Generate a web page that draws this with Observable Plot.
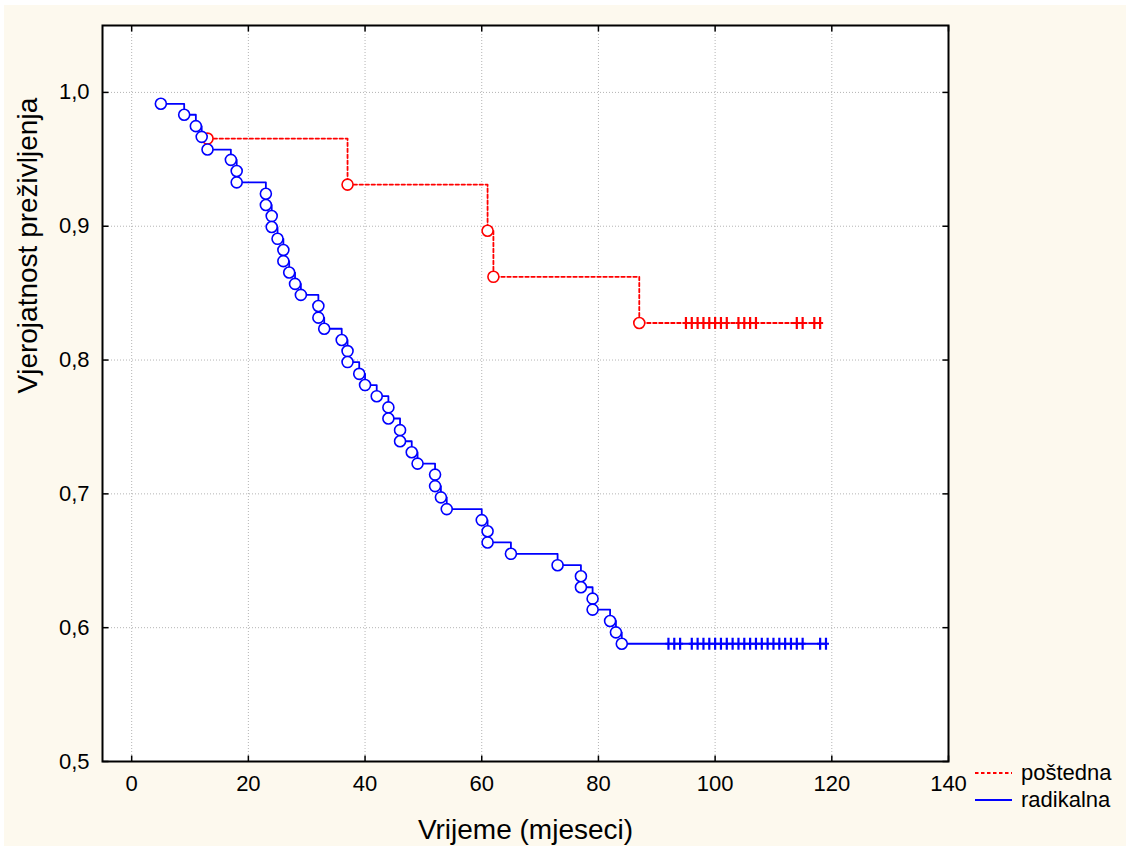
<!DOCTYPE html>
<html><head><meta charset="utf-8">
<script src="https://cdn.jsdelivr.net/npm/d3@7"></script>
<script src="https://cdn.jsdelivr.net/npm/@observablehq/plot@0.6"></script>
<style>
body{margin:0;background:#fff;}
#wrap{position:relative;width:1129px;height:850px;background:#fff;font-family:"Liberation Sans",Arial,sans-serif;overflow:hidden;}
#bg{position:absolute;left:4px;top:5px;right:3px;bottom:4px;background:#fdf9ee;}
#chart{position:absolute;left:0;top:0;}
#legend{position:absolute;left:975px;top:759px;font-size:22px;line-height:27px;color:#000;}
#legend .row{display:flex;align-items:center;height:27px;}
#legend svg{margin-right:9px;}
</style></head><body>
<div id="wrap"><div id="bg"></div><div id="chart"></div><div id="legend"></div></div>
<script>
// ---- data ----
const seriesNames = ["poštedna", "radikalna"];
const seriesColors = ["#ff0000", "#0000ff"];
const seriesDash = ["3.5,2.5", null];

const postednaEventTimes = [13, 37, 61, 62, 87];
const postednaSurvival = [0.9655, 0.9311, 0.8966, 0.8622, 0.8277];
const postednaCensored = [95, 96, 97, 98, 99, 100, 101, 102, 104, 105, 106, 107, 114, 115, 117, 118];

const radikalnaEventTimes = [5, 9, 11, 12, 13, 17, 18, 18, 23, 23, 24, 24, 25, 26, 26, 27, 28, 29, 32, 32, 33, 36, 37, 37, 39, 40, 42, 44, 44, 46, 46, 48, 49, 52, 52, 53, 54, 60, 61, 61, 65, 73, 77, 77, 79, 79, 82, 83, 84];
const radikalnaSurvival = [0.9915, 0.9833, 0.9748, 0.9668, 0.9573, 0.9496, 0.9413, 0.9328, 0.9243, 0.9159, 0.9076, 0.8994, 0.8906, 0.8822, 0.8739, 0.8654, 0.8569, 0.8487, 0.8404, 0.8317, 0.8234, 0.8150, 0.8067, 0.7985, 0.7897, 0.7813, 0.7730, 0.7646, 0.7563, 0.7476, 0.7393, 0.7311, 0.7226, 0.7144, 0.7058, 0.6974, 0.6886, 0.6804, 0.6721, 0.6637, 0.6552, 0.6467, 0.6384, 0.6302, 0.6217, 0.6135, 0.6050, 0.5965, 0.5880];
const radikalnaCensored = [92, 93, 94, 96, 97, 98, 99, 100, 101, 102, 103, 104, 105, 106, 107, 108, 109, 110, 111, 112, 113, 114, 115, 118, 119];

const xTicks = [0, 20, 40, 60, 80, 100, 120, 140];
const yTicks = [0.5, 0.6, 0.7, 0.8, 0.9, 1.0];
const xLabel = "Vrijeme (mjeseci)";
const yLabel = "Vjerojatnost preživljenja";

// ---- build tables ----
const groups = [
  {name: seriesNames[0], color: seriesColors[0], dash: seriesDash[0], times: postednaEventTimes, surv: postednaSurvival, cens: postednaCensored},
  {name: seriesNames[1], color: seriesColors[1], dash: seriesDash[1], times: radikalnaEventTimes, surv: radikalnaSurvival, cens: radikalnaCensored}
];
function survAt(g, t) {
  let s = 1;
  g.times.forEach((et, i) => { if (et <= t) s = g.surv[i]; });
  return s;
}
const events = [], lines = [], censored = [];
for (const g of groups) {
  const pts = g.times.map((t, i) => ({t, s: g.surv[i], series: g.name}));
  events.push(...pts);
  const lastT = Math.max(...g.cens);
  lines.push({g, pts: [...pts, {t: lastT, s: survAt(g, lastT), series: g.name}]});
  g.cens.forEach(t => censored.push({t, s: survAt(g, t), series: g.name}));
}

// custom symbols
const sym = (fn) => ({draw(c, size) { const l = Math.sqrt(size / Math.PI); fn(c, l); }});
const tickUp = sym((c, l) => { c.moveTo(0, 0); c.lineTo(0, -l); });
const tickDown = sym((c, l) => { c.moveTo(0, 0); c.lineTo(0, l); });
const tickRight = sym((c, l) => { c.moveTo(0, 0); c.lineTo(l, 0); });
const tickLeft = sym((c, l) => { c.moveTo(0, 0); c.lineTo(-l, 0); });
const censorPlus = sym((c, l) => { c.moveTo(0, -l); c.lineTo(0, l); c.moveTo(-l / 2, 0); c.lineTo(l / 2, 0); });

const colorScale = {domain: seriesNames, range: seriesColors};
const fmt = d => d.toFixed(1).replace(".", ",");

const marks = [
  Plot.frame({fill: "white", stroke: null}),
  Plot.gridX(xTicks, {stroke: "#b4b4b4", strokeOpacity: 1, strokeDasharray: "1,2", strokeWidth: 1}),
  Plot.gridY(yTicks, {stroke: "#b4b4b4", strokeOpacity: 1, strokeDasharray: "1,2", strokeWidth: 1}),
];
for (const L of lines) {
  marks.push(Plot.line(L.pts, {x: "t", y: "s", curve: "step-after", stroke: L.g.color, strokeWidth: 1.8, strokeDasharray: L.g.dash}));
}
marks.push(
  Plot.dot(censored, {x: "t", y: "s", stroke: "series", symbol: censorPlus, r: 6, strokeWidth: 2.2}),
  Plot.dot(events, {x: "t", y: "s", stroke: "series", fill: "white", r: 5.5, strokeWidth: 1.6}),
  Plot.frame({stroke: "black", strokeWidth: 2}),
  Plot.dot(xTicks, {x: d => d, frameAnchor: "bottom", symbol: tickUp, r: 6, stroke: "black", strokeWidth: 1.5}),
  Plot.dot(xTicks, {x: d => d, frameAnchor: "top", symbol: tickDown, r: 6, stroke: "black", strokeWidth: 1.5}),
  Plot.dot(yTicks, {y: d => d, frameAnchor: "left", symbol: tickRight, r: 6, stroke: "black", strokeWidth: 1.5}),
  Plot.dot(yTicks, {y: d => d, frameAnchor: "right", symbol: tickLeft, r: 6, stroke: "black", strokeWidth: 1.5}),
  Plot.axisX(xTicks, {anchor: "bottom", tickSize: 0, tickPadding: 14, label: null, fontSize: 22}),
  Plot.axisY(yTicks, {anchor: "left", tickSize: 0, tickPadding: 13, label: null, tickFormat: fmt, fontSize: 22}),
  Plot.text([xLabel], {frameAnchor: "bottom", dy: 69, fontSize: 28, lineAnchor: "middle", fill: "black"}),
  Plot.text([yLabel], {frameAnchor: "left", dx: -74, rotate: -90, fontSize: 28, lineAnchor: "middle", fill: "black"})
);

const chart = Plot.plot({
  width: 1129,
  height: 850,
  marginLeft: 102,
  marginRight: 181,
  marginTop: 25,
  marginBottom: 89,
  x: {domain: [-5, 140]},
  y: {domain: [0.5, 1.05]},
  color: colorScale,
  style: {background: "transparent", fontFamily: "'Liberation Sans', Arial, sans-serif", fontSize: "22px", color: "black", overflow: "visible"},
  marks
});
document.getElementById("chart").appendChild(chart);

// legend
const leg = document.getElementById("legend");
groups.forEach(g => {
  const row = document.createElement("div");
  row.className = "row";
  row.innerHTML = `<svg width="37" height="10"><line x1="0" x2="37" y1="5" y2="5" stroke="${g.color}" stroke-width="1.8" ${g.dash ? `stroke-dasharray="${g.dash}"` : ""}/></svg><span>${g.name}</span>`;
  leg.appendChild(row);
});
</script>
</body></html>
